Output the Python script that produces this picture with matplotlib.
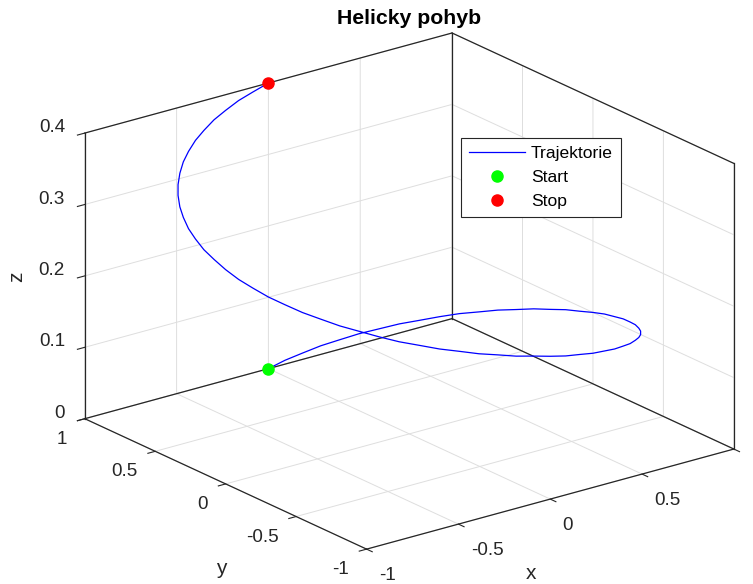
import numpy as np
import matplotlib.pyplot as plt
from mpl_toolkits.mplot3d import proj3d
from matplotlib.lines import Line2D

plt.rcParams['font.family'] = ['Liberation Sans', 'DejaVu Sans']
plt.rcParams['grid.color'] = '#dedede'
plt.rcParams['grid.linewidth'] = 0.7

# helix: one turn, radius 1, rising 0 -> 0.4 (every 5 deg)
x_pts = [0.000, 0.087, 0.174, 0.259, 0.342, 0.423, 0.500, 0.574, 0.643, 0.707,
         0.766, 0.819, 0.866, 0.906, 0.940, 0.966, 0.985, 0.996, 1.000,
         0.996, 0.985, 0.966, 0.940, 0.906, 0.866, 0.819, 0.766, 0.707,
         0.643, 0.574, 0.500, 0.423, 0.342, 0.259, 0.174, 0.087, 0.000,
         -0.087, -0.174, -0.259, -0.342, -0.423, -0.500, -0.574, -0.643, -0.707,
         -0.766, -0.819, -0.866, -0.906, -0.940, -0.966, -0.985, -0.996, -1.000,
         -0.996, -0.985, -0.966, -0.940, -0.906, -0.866, -0.819, -0.766, -0.707,
         -0.643, -0.574, -0.500, -0.423, -0.342, -0.259, -0.174, -0.087, 0.000]
y_pts = [1.000, 0.996, 0.985, 0.966, 0.940, 0.906, 0.866, 0.819, 0.766, 0.707,
         0.643, 0.574, 0.500, 0.423, 0.342, 0.259, 0.174, 0.087, 0.000,
         -0.087, -0.174, -0.259, -0.342, -0.423, -0.500, -0.574, -0.643, -0.707,
         -0.766, -0.819, -0.866, -0.906, -0.940, -0.966, -0.985, -0.996, -1.000,
         -0.996, -0.985, -0.966, -0.940, -0.906, -0.866, -0.819, -0.766, -0.707,
         -0.643, -0.574, -0.500, -0.423, -0.342, -0.259, -0.174, -0.087, 0.000,
         0.087, 0.174, 0.259, 0.342, 0.423, 0.500, 0.574, 0.643, 0.707,
         0.766, 0.819, 0.866, 0.906, 0.940, 0.966, 0.985, 0.996, 1.000]
z_pts = [0.000, 0.006, 0.011, 0.017, 0.022, 0.028, 0.033, 0.039, 0.044, 0.050,
         0.056, 0.061, 0.067, 0.072, 0.078, 0.083, 0.089, 0.094, 0.100,
         0.106, 0.111, 0.117, 0.122, 0.128, 0.133, 0.139, 0.144, 0.150,
         0.156, 0.161, 0.167, 0.172, 0.178, 0.183, 0.189, 0.194, 0.200,
         0.206, 0.211, 0.217, 0.222, 0.228, 0.233, 0.239, 0.244, 0.250,
         0.256, 0.261, 0.267, 0.272, 0.278, 0.283, 0.289, 0.294, 0.300,
         0.306, 0.311, 0.317, 0.322, 0.328, 0.333, 0.339, 0.344, 0.350,
         0.356, 0.361, 0.367, 0.372, 0.378, 0.383, 0.389, 0.394, 0.400]
start_pt = [0.0, 1.0, 0.0]
stop_pt = [0.0, 1.0, 0.4]

x_ticks = [-1, -0.5, 0, 0.5, 1]
x_ticklabels = ['-1', '-0.5', '0', '0.5', '']
y_ticks = [-1, -0.5, 0, 0.5, 1]
y_ticklabels = ['-1', '-0.5', '0', '0.5', '1']
z_ticks = [0, 0.1, 0.2, 0.3, 0.4]
z_ticklabels = ['0', '0.1', '0.2', '0.3', '0.4']
xlim = (-1, 1)
ylim = (-1, 1)
zlim = (0, 0.4)

dark = '#262626'
W, H = 753, 584

fig = plt.figure(figsize=(W / 100, H / 100), dpi=100)
S0, X0, Y0 = 500.0, 100.0, 40.0
ax = fig.add_axes([X0 / W, Y0 / H, S0 / W, S0 / H], projection='3d', computed_zorder=False)
ax.set_proj_type('ortho')
ax.view_init(elev=20.8, azim=-127.5)
ax.set_box_aspect((1, 1, 0.66))
ax.set_xlim(*xlim)
ax.set_ylim(*ylim)
ax.set_zlim(*zlim)

for axis in (ax.xaxis, ax.yaxis, ax.zaxis):
    axis.set_pane_color((1, 1, 1, 0))
    axis.pane.set_edgecolor((1, 1, 1, 0))
    axis.line.set_color((1, 1, 1, 0))
    axis._axinfo['tick']['inward_factor'] = 0.25
    axis._axinfo['tick']['outward_factor'] = 0.0
    axis._axinfo['tick']['linewidth'] = {True: 0.8, False: 0.5}
    axis._axinfo['axisline']['color'] = (1, 1, 1, 0)

ax.set_xticks(x_ticks, x_ticklabels)
ax.set_yticks(y_ticks, y_ticklabels)
ax.set_zticks(z_ticks, z_ticklabels)
ax.tick_params(colors=dark, labelsize=13.6, width=0.8)
ax.xaxis.set_tick_params(pad=3.5)
ax.yaxis.set_tick_params(pad=4.7)
ax.zaxis.set_tick_params(pad=0)
for lab in ax.get_xticklabels():
    lab.set_ha('left')
for lab in ax.get_yticklabels():
    lab.set_ha('right')
    lab.set_va('center_baseline')
for lab in ax.get_zticklabels():
    lab.set_ha('right')
    lab.set_va('baseline')

# box edges like matlab
x0, x1 = xlim
y0, y1 = ylim
z0, z1 = zlim
edges = [
    ([x0, x0], [y1, y1], [z0, z1]),
    ([x1, x1], [y1, y1], [z0, z1]),
    ([x1, x1], [y0, y0], [z0, z1]),
    ([x0, x1], [y1, y1], [z1, z1]),
    ([x1, x1], [y1, y0], [z1, z1]),
    ([x0, x1], [y1, y1], [z0, z0]),
    ([x1, x1], [y1, y0], [z0, z0]),
    ([x0, x0], [y1, y0], [z0, z0]),
    ([x0, x1], [y0, y0], [z0, z0]),
]
for ex, ey, ez in edges:
    ax.plot(ex, ey, ez, color=dark, lw=0.9, zorder=1)

ax.plot(x_pts, y_pts, z_pts, color='#0000ff', lw=0.9, zorder=3)
ax.plot([start_pt[0]], [start_pt[1]], [start_pt[2]], 'o', color='#00ff00', ms=8, zorder=4)
ax.plot([stop_pt[0]], [stop_pt[1]], [stop_pt[2]], 'o', color='#ff0000', ms=8, zorder=4)

# fit the axes so the box corners land where the reference has them
corners = np.array([[x0, y1, z0], [x0, y1, z1], [x1, y1, z1], [x1, y0, z1],
                    [x1, y0, z0], [x0, y0, z0], [x1, y1, z0]])
targets = np.array([[84, 166], [84, 451], [453, 549], [734, 421],
                    [734, 135], [367, 35], [452, 266]], dtype=float)
fig.canvas.draw()
px, py, _ = proj3d.proj_transform(corners[:, 0], corners[:, 1], corners[:, 2], ax.get_proj())
disp = ax.transData.transform(np.column_stack([px, py]))
u = (disp[:, 0] - X0) / S0
v = (disp[:, 1] - Y0) / S0
n = len(u)
A = np.zeros((2 * n, 3))
b = np.zeros(2 * n)
A[:n, 0] = 1
A[:n, 2] = u
b[:n] = targets[:, 0]
A[n:, 1] = 1
A[n:, 2] = v
b[n:] = targets[:, 1]
nx, ny, ns = np.linalg.lstsq(A, b, rcond=None)[0]
ax.set_position([nx / W, ny / H, ns / W, ns / H])

handles = [Line2D([], [], color='#0000ff', lw=0.9),
           Line2D([], [], ls='none', marker='o', color='#00ff00', ms=8),
           Line2D([], [], ls='none', marker='o', color='#ff0000', ms=8)]
leg = ax.legend(handles, ['Trajektorie', 'Start', 'Stop'], loc='upper left',
                bbox_to_anchor=(461 / W, 1 - 138 / H), bbox_transform=fig.transFigure,
                fontsize=12.6, fancybox=False, framealpha=1, edgecolor=dark,
                handlelength=3.2, handletextpad=0.35, labelspacing=0.5,
                borderpad=0.45, borderaxespad=0)
leg.get_frame().set_linewidth(0.8)

fig.text(409 / W, 1 - 18 / H, 'Helicky pohyb', ha='center', va='center',
         fontsize=15.3, fontweight='bold', color='black')
fig.text(531 / W, 1 - 579 / H, 'x', ha='center', va='baseline', fontsize=15, color=dark)
fig.text(221 / W, 1 - 574 / H, 'y', ha='center', va='baseline', fontsize=15, color=dark)
fig.text(17 / W, 1 - 277 / H, 'z', ha='center', va='center', fontsize=15,
         color=dark, rotation=90)

fig.savefig('out.png', dpi=100)
